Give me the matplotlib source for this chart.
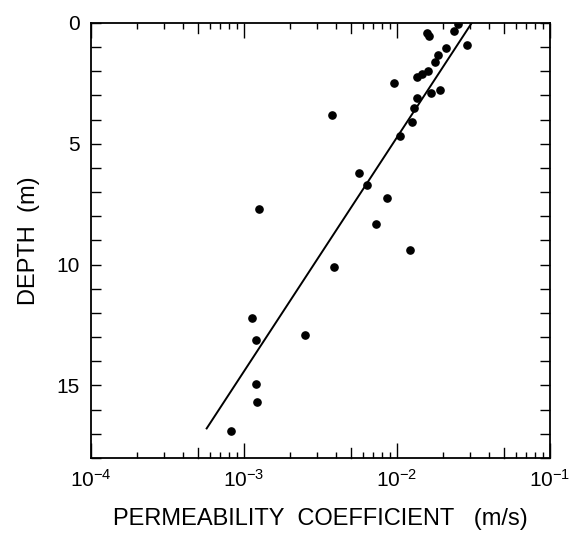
import matplotlib.pyplot as plt
import numpy as np
from matplotlib.ticker import LogLocator, MultipleLocator, NullFormatter

plt.rcParams['font.family'] = ['Liberation Sans', 'DejaVu Sans']
plt.rcParams['mathtext.default'] = 'regular'

# permeability coefficient (m/s) and depth (m) of the measured points
perm = [0.0252, 0.0235, 0.0157, 0.0161, 0.0287, 0.0210, 0.0184, 0.0177,
        0.0159, 0.0146, 0.0135, 0.00954, 0.0192, 0.0167, 0.0136, 0.0130,
        0.0125, 0.00375, 0.0105, 0.00566, 0.00632, 0.00855, 0.00125,
        0.00728, 0.0122, 0.00388, 0.00112, 0.00251, 0.00119, 0.00119,
        0.00121, 0.00082]
depth = [0.05, 0.32, 0.41, 0.55, 0.93, 1.02, 1.32, 1.61,
         2.0, 2.11, 2.25, 2.49, 2.78, 2.89, 3.09, 3.5,
         4.10, 3.80, 4.69, 6.21, 6.72, 7.23, 7.71,
         8.31, 9.40, 10.12, 12.19, 12.93, 13.13, 14.93,
         15.70, 16.90]

# fitted line end points
fit_perm = [0.00057, 0.0308]
fit_depth = [16.78, 0.0]

fig = plt.figure(figsize=(5.71, 5.40), dpi=100)
ax = fig.add_axes([0.1594, 0.152, 0.8038, 0.8055])

ax.plot(perm, depth, 'o', color='black', markersize=5.2)
ax.plot(fit_perm, fit_depth, '-', color='black', linewidth=1.4)

ax.set_xscale('log')
ax.set_xlim(1e-4, 1e-1)
ax.set_ylim(18, 0)

ax.xaxis.set_major_locator(LogLocator(base=10, numticks=10))
ax.xaxis.set_minor_locator(LogLocator(base=10, subs=[2, 3, 4, 6, 7, 8, 9], numticks=20))
ax.xaxis.set_minor_formatter(NullFormatter())
ax.yaxis.set_major_locator(MultipleLocator(5))
ax.yaxis.set_minor_locator(MultipleLocator(1))

ax.tick_params(which='both', direction='in', top=True, right=True, width=1.0,
               labelsize=15, pad=8, colors='black')
ax.tick_params(axis='x', which='major', length=11)
ax.tick_params(axis='x', which='minor', length=4.5)
ax.tick_params(axis='y', which='both', length=7)

# medium ticks at 5 x 10^n
for v in [5e-4, 5e-3, 5e-2]:
    ax.plot([v, v], [0, 0.022], transform=ax.get_xaxis_transform(),
            color='black', linewidth=1.0, clip_on=False)
    ax.plot([v, v], [1, 0.978], transform=ax.get_xaxis_transform(),
            color='black', linewidth=1.0, clip_on=False)

for s in ax.spines.values():
    s.set_linewidth(1.3)

ax.set_xlabel('PERMEABILITY  COEFFICIENT   (m/s)', fontsize=17, labelpad=12)
ax.set_ylabel('DEPTH  (m)', fontsize=17, labelpad=12)

fig.savefig('out.png', dpi=100)
